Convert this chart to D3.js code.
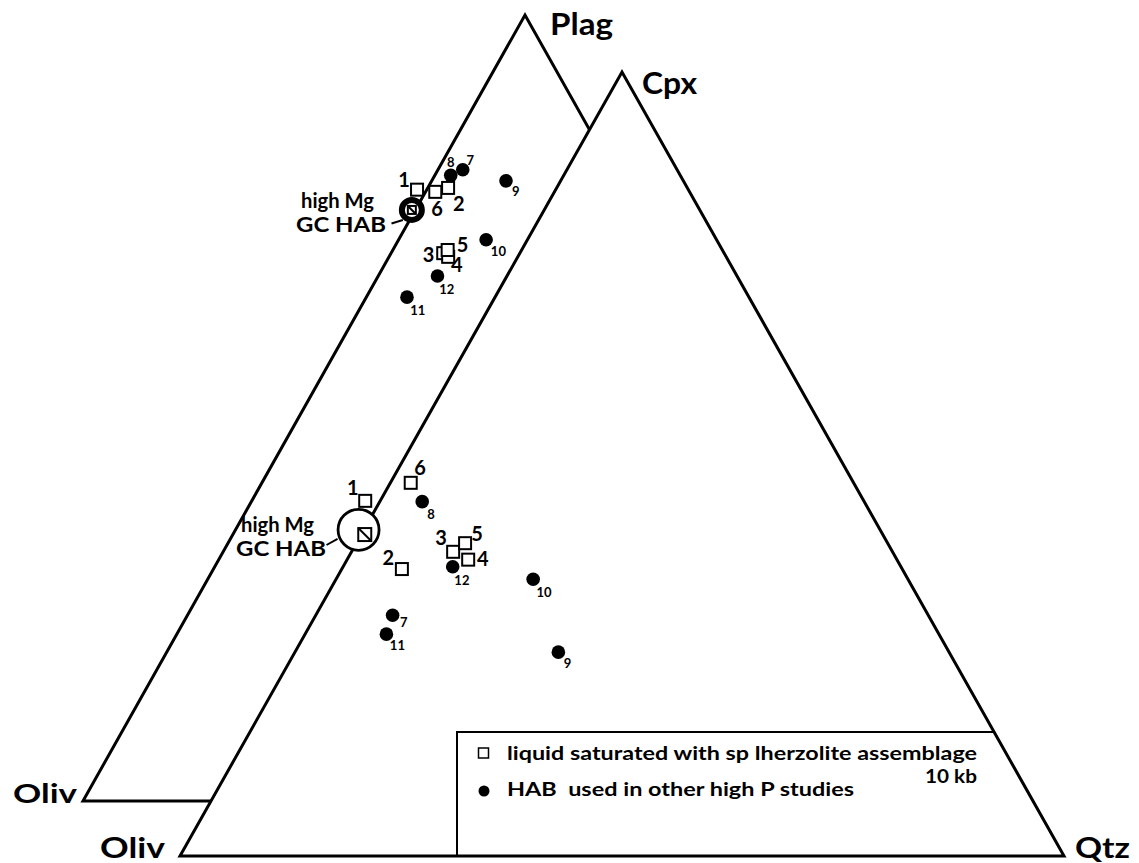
<!DOCTYPE html>
<html>
<head>
<meta charset="utf-8">
<script src="https://cdn.jsdelivr.net/npm/d3@7"></script>
<style>
  body { margin: 0; background: #fff; }
  text { font-family: Lato, "DejaVu Sans", sans-serif; font-weight: bold; fill: #000; }
</style>
</head>
<body>
<div id="chart"></div>
<script>
// 样品编号：1–6 液相饱和（方块），7–12 其他高压研究的 HAB（实心圆）
const sampleIds = ['1', '2', '3', '4', '5', '6', '7', '8', '9', '10', '11', '12'];
const sampleKind = ['liq', 'liq', 'liq', 'liq', 'liq', 'liq', 'hab', 'hab', 'hab', 'hab', 'hab', 'hab'];

// 上图 Oliv–Plag–Qtz
const plagOliv = [23.3, 19.7, 24.4, 24.1, 23.7, 21.4, 16.9, 18.6, 12.7, 18.7, 31.3, 26.5];
const plagPlag = [77.7, 78.0, 69.7, 69.3, 70.1, 77.5, 80.4, 79.6, 78.9, 71.4, 64.1, 66.8];
const plagQtz = [-1.1, 2.3, 5.9, 6.7, 6.2, 1.1, 2.8, 1.8, 8.4, 9.9, 4.6, 6.7];

// 下图 Oliv–Cpx–Qtz
const cpxOliv = [56.4, 56.6, 49.7, 48.5, 47.8, 50.1, 60.6, 50.0, 44.2, 42.4, 62.5, 50.7];
const cpxCpx = [45.3, 36.6, 38.8, 37.8, 39.9, 47.6, 30.7, 45.2, 26.0, 35.3, 28.3, 36.9];
const cpxQtz = [-1.7, 6.8, 11.5, 13.7, 12.3, 2.3, 8.7, 4.8, 29.8, 22.3, 9.2, 12.4];

// high Mg GC HAB（圆心与内部方块）
const gcHabPlag = [25.2, 75.2, -0.4];
const gcHabCpx = [59.0, 41.6, -0.6];
const gcHabCpxSquare = [58.6, 41.0, 0.4];

const upperVertices = ['Oliv', 'Plag'];
const lowerVertices = ['Oliv', 'Cpx', 'Qtz'];
const gcHabLabel = ['high Mg', 'GC HAB'];
const legendLabels = ['liquid saturated with sp lherzolite assemblage', '10 kb', 'HAB  used in other high P studies'];

// 标签偏移（相对点中心）
const labelOffset = {
    upper: { '1': [-13, -3], '2': [10.7, 22.7], '3': [-14.6, 9.2], '4': [8.7, 15.2], '5': [14.8, 1.7], '6': [1.7, 24.3],
             '7': [7.6, -4.3], '8': [0, -8.3], '9': [9.8, 15], '10': [12.3, 16.7], '11': [10.8, 17.7], '12': [9.3, 18] },
    lower: { '1': [-12.3, -6], '2': [-13.7, -4.3], '3': [-12, -6.7], '4': [14.5, 6.7], '5': [12, -1.8], '6': [9.3, -7.7],
             '7': [11.2, 11.8], '8': [8.7, 17.6], '9': [9.2, 16], '10': [10.9, 17.4], '11': [11, 15.5], '12': [9.2, 18.3] }
};

const width = 1139, height = 863;
const svg = d3.select('#chart').append('svg')
    .attr('width', width)
    .attr('height', height);

// 比例尺：x 为底边位置，y 为顶点组分
const upperX = d3.scaleLinear().domain([0, 1]).range([83, 967]);
const upperY = d3.scaleLinear().domain([0, 1]).range([801, 15]);
const lowerX = d3.scaleLinear().domain([0, 1]).range([180, 1064]);
const lowerY = d3.scaleLinear().domain([0, 1]).range([856, 72]);

function project(xs, ys, o, a, q) {
    const s = o + a + q;
    const b = a / s, c = q / s;
    return [xs(c + b / 2), ys(b)];
}

function corners(xs, ys) {
    return [[xs(0), ys(0)], [xs(0.5), ys(1)], [xs(1), ys(0)]];
}

function drawTriangle(xs, ys) {
    svg.append('path')
        .attr('d', 'M' + corners(xs, ys).join('L') + 'Z')
        .attr('fill', '#fff')
        .attr('stroke', '#000')
        .attr('stroke-width', 3)
        .attr('stroke-linejoin', 'miter');
}

// 上三角在后，下三角（白底）遮住重叠部分
drawTriangle(upperX, upperY);
drawTriangle(lowerX, lowerY);

// 图例框
const legendTop = 732, legendLeft = 457;
const legendB = lowerY.invert(legendTop);
svg.append('path')
    .attr('d', `M${legendLeft},${lowerY(0)}L${legendLeft},${legendTop}L${lowerX(1 - legendB / 2)},${legendTop}`)
    .attr('fill', 'none')
    .attr('stroke', '#000')
    .attr('stroke-width', 2);

// 顶点标签
const uc = corners(upperX, upperY), lc = corners(lowerX, lowerY);
svg.append('text').attr('x', uc[0][0] - 6).attr('y', uc[0][1] + 2).attr('text-anchor', 'end')
    .attr('font-size', 27).attr('textLength', 64).attr('lengthAdjust', 'spacingAndGlyphs').text(upperVertices[0]);
svg.append('text').attr('x', uc[1][0] + 25).attr('y', uc[1][1] + 20)
    .attr('font-size', 30).attr('textLength', 63).attr('lengthAdjust', 'spacingAndGlyphs').text(upperVertices[1]);
svg.append('text').attr('x', lc[0][0] - 15).attr('y', lc[0][1] + 2).attr('text-anchor', 'end')
    .attr('font-size', 28).attr('textLength', 65).attr('lengthAdjust', 'spacingAndGlyphs').text(lowerVertices[0]);
svg.append('text').attr('x', lc[1][0] + 20).attr('y', lc[1][1] + 22)
    .attr('font-size', 30).attr('textLength', 55).attr('lengthAdjust', 'spacingAndGlyphs').text(lowerVertices[1]);
svg.append('text').attr('x', lc[2][0] + 11).attr('y', lc[2][1] + 2)
    .attr('font-size', 28).attr('textLength', 55).attr('lengthAdjust', 'spacingAndGlyphs').text(lowerVertices[2]);

// GC HAB 标记
function drawGcHab(center, square, ring) {
    svg.append('circle')
        .attr('cx', center[0]).attr('cy', center[1]).attr('r', ring.r)
        .attr('fill', '#fff').attr('stroke', '#000').attr('stroke-width', ring.w);
    const h = ring.sq / 2;
    svg.append('rect')
        .attr('x', square[0] - h).attr('y', square[1] - h)
        .attr('width', ring.sq).attr('height', ring.sq)
        .attr('fill', '#fff').attr('stroke', '#000').attr('stroke-width', 2);
    svg.append('line')
        .attr('x1', square[0] - h).attr('y1', square[1] - h)
        .attr('x2', square[0] + h).attr('y2', square[1] + h)
        .attr('stroke', '#000').attr('stroke-width', 2);
}

const upperGc = project(upperX, upperY, ...gcHabPlag);
const lowerGc = project(lowerX, lowerY, ...gcHabCpx);
const lowerGcSq = project(lowerX, lowerY, ...gcHabCpxSquare);
drawGcHab(upperGc, upperGc, { r: 10, w: 6, sq: 8 });
drawGcHab(lowerGc, lowerGcSq, { r: 20.5, w: 2.8, sq: 13 });

// GC HAB 文字与引线
function drawGcLabel(x1, y1, x2, y2, tx, ty) {
    svg.append('line').attr('x1', x1).attr('y1', y1).attr('x2', x2).attr('y2', y2)
        .attr('stroke', '#000').attr('stroke-width', 2);
    svg.append('text').attr('x', tx + 5).attr('y', ty)
        .attr('font-size', 20).attr('textLength', 73).attr('lengthAdjust', 'spacingAndGlyphs').text(gcHabLabel[0]);
    svg.append('text').attr('x', tx).attr('y', ty + 24)
        .attr('font-size', 21).attr('textLength', 90).attr('lengthAdjust', 'spacingAndGlyphs').text(gcHabLabel[1]);
}
drawGcLabel(391.5, 223.5, upperGc[0] - 9, upperGc[1] + 10, 296, 208);
drawGcLabel(326.5, 545, lowerGc[0] - 21, lowerGc[1] + 9, 236, 532);

// 数据点
function drawSamples(panel, xs, ys, oliv, apex, qtz) {
    const pts = sampleIds.map((id, i) => {
        const p = project(xs, ys, oliv[i], apex[i], qtz[i]);
        return { id, kind: sampleKind[i], x: p[0], y: p[1] };
    });
    const g = svg.append('g');
    g.selectAll('rect.liq')
        .data(pts.filter(d => d.kind === 'liq'))
        .enter().append('rect')
        .attr('class', 'liq')
        .attr('x', d => d.x - 6).attr('y', d => d.y - 6)
        .attr('width', 12).attr('height', 12)
        .attr('fill', '#fff').attr('stroke', '#000').attr('stroke-width', 2);
    g.selectAll('circle.hab')
        .data(pts.filter(d => d.kind === 'hab'))
        .enter().append('circle')
        .attr('class', 'hab')
        .attr('cx', d => d.x).attr('cy', d => d.y).attr('r', 6.8)
        .attr('fill', '#000');
    g.selectAll('text')
        .data(pts)
        .enter().append('text')
        .attr('x', d => d.x + labelOffset[panel][d.id][0])
        .attr('y', d => d.y + labelOffset[panel][d.id][1])
        .attr('text-anchor', 'middle')
        .attr('font-size', d => d.kind === 'liq' ? 20 : 13)
        .text(d => d.id);
}
drawSamples('upper', upperX, upperY, plagOliv, plagPlag, plagQtz);
drawSamples('lower', lowerX, lowerY, cpxOliv, cpxCpx, cpxQtz);

// 图例
svg.append('rect').attr('x', 478.5).attr('y', 748).attr('width', 10).attr('height', 10)
    .attr('fill', '#fff').attr('stroke', '#000').attr('stroke-width', 1.5);
svg.append('text').attr('x', 507).attr('y', 760).attr('font-size', 18)
    .attr('textLength', 470).attr('lengthAdjust', 'spacingAndGlyphs').text(legendLabels[0]);
svg.append('text').attr('x', 977).attr('y', 783).attr('text-anchor', 'end').attr('font-size', 19)
    .attr('textLength', 52).attr('lengthAdjust', 'spacingAndGlyphs').text(legendLabels[1]);
svg.append('circle').attr('cx', 484).attr('cy', 791).attr('r', 5.5).attr('fill', '#000');
svg.append('text').attr('x', 507).attr('y', 796).attr('font-size', 18).attr('xml:space', 'preserve')
    .attr('textLength', 347).attr('lengthAdjust', 'spacingAndGlyphs').text(legendLabels[2]);
</script>
</body>
</html>
